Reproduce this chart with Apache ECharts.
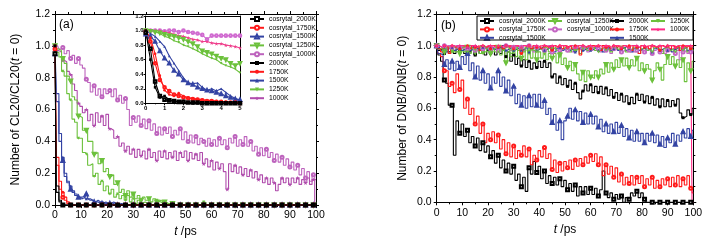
<!DOCTYPE html>
<html><head><meta charset="utf-8">
<script src="https://cdn.jsdelivr.net/npm/echarts@6/dist/echarts.min.js"></script>
<style>html,body{margin:0;padding:0;background:#fff}#c{width:716px;height:243px}</style>
</head><body><div id="c"></div>
<script>
// ---------- time grids ----------
const tMain = [0,1,2,3,4,5,6,7,8,9,10,11,12,13,14,15,16,17,18,19,20,21,22,23,24,25,26,27,28,29,30,31,32,33,34,35,36,37,38,39,40,41,42,43,44,45,46,47,48,49,50,51,52,53,54,55,56,57,58,59,60,61,62,63,64,65,66,67,68,69,70,71,72,73,74,75,76,77,78,79,80,81,82,83,84,85,86,87,88,89,90,91,92,93,94,95,96,97,98,99,100];
const tInset = [0,0.25,0.5,0.75,1,1.25,1.5,1.75,2,2.25,2.5,2.75,3,3.25,3.5,3.75,4,4.25,4.5,4.75,5];
const seriesNames = ['cosrytal_2000K','cosrytal_1750K','cosrytal_1500K','cosrytal_1250K','cosrytal_1000K','2000K','1750K','1500K','1250K','1000K'];
const xTicksMain = [0,10,20,30,40,50,60,70,80,90,100];
const yTicks = [0.0,0.2,0.4,0.6,0.8,1.0,1.2];
const xTicksInset = [0,1,2,3,4,5];

// ---------- panel (a) main: CL20 ----------
const a_c2000 = [0.95,0.08,0.02,0,0,0,0,0,0,0,0,
0,0,0,0,0,0,0,0,0,0, 0,0,0,0,0,0,0,0,0,0, 0,0,0,0,0,0,0,0,0,0, 0,0,0,0,0,0,0,0,0,0,
0,0,0,0,0,0,0,0,0,0, 0,0,0,0,0,0,0,0,0,0, 0,0,0,0,0,0,0,0,0,0, 0,0,0,0,0,0,0,0,0,0, 0,0,0,0,0,0,0,0,0,0];
const a_c1750 = [0.98,0.25,0.1,0.05,0.03,0.01,0,0,0,0,0,
0,0,0,0,0,0,0,0,0,0, 0,0,0,0,0,0,0,0,0,0, 0,0,0,0,0,0,0,0,0,0, 0,0,0,0,0,0,0,0,0,0,
0,0,0,0,0,0,0,0,0,0, 0,0,0,0,0,0,0,0,0,0, 0,0,0,0,0,0,0,0,0,0, 0,0,0,0,0,0,0,0,0,0, 0,0,0,0,0,0,0,0,0,0];
const a_c1500 = [0.95,0.65,0.4,0.28,0.18,0.14,0.1,0.08,0.06,0.05,0.04,
0.05,0.07,0.04,0.03,0.02,0.03,0.02,0.01,0.02,0.01, 0.01,0.02,0.01,0,0.01,0,0,0,0,0, 0,0,0,0,0,0,0,0,0,0, 0,0,0,0,0,0,0,0,0,0,
0,0,0,0,0,0,0,0,0,0, 0,0,0,0,0,0,0,0,0,0, 0,0,0,0,0,0,0,0,0,0, 0,0,0,0,0,0,0,0,0,0, 0,0,0,0,0,0,0,0,0,0];
const a_c1250 = [1.0,0.98,0.97,0.92,0.89,0.81,0.78,0.68,0.66,0.56,0.55,
0.47,0.47,0.4,0.4,0.32,0.33,0.26,0.28,0.21,0.23, 0.18,0.19,0.13,0.14,0.08,0.1,0.06,0.09,0.05,0.07,
0.04,0.06,0.03,0.05,0.03,0.04,0.02,0.04,0.02,0.03, 0.02,0.02,0.01,0.01,0.01,0,0,0,0,0,
0,0,0,0,0,0,0,0,0,0, 0,0,0,0,0,0,0,0,0,0, 0,0,0,0,0,0,0,0,0,0, 0,0,0,0,0,0,0,0,0,0, 0,0,0,0,0,0,0,0,0,0];
const a_c1000 = [1.0,1.0,0.98,0.99,0.95,0.97,0.92,0.94,0.89,0.92,0.88,
0.86,0.79,0.77,0.71,0.75,0.69,0.73,0.68,0.73,0.7, 0.72,0.68,0.73,0.66,0.69,0.64,0.67,0.6,0.5,0.55,
0.52,0.56,0.5,0.54,0.48,0.53,0.47,0.51,0.45,0.49, 0.44,0.48,0.45,0.49,0.43,0.47,0.44,0.48,0.41,0.46,
0.4,0.44,0.39,0.43,0.38,0.42,0.4,0.37,0.42,0.38, 0.41,0.37,0.42,0.38,0.41,0.36,0.42,0.39,0.43,0.37,
0.41,0.38,0.43,0.37,0.4,0.34,0.37,0.32,0.36,0.31, 0.35,0.3,0.33,0.28,0.32,0.27,0.3,0.25,0.29,0.24,
0.27,0.22,0.25,0.19,0.23,0.17,0.21,0.15,0.19,0.16];
const a_2000 = [1.0,0.12,0.03,0,0,0,0,0,0,0,0,
0,0,0,0,0,0,0,0,0,0, 0,0,0,0,0,0,0,0,0,0, 0,0,0,0,0,0,0,0,0,0, 0,0,0,0,0,0,0,0,0,0,
0,0,0,0,0,0,0,0,0,0, 0,0,0,0,0,0,0,0,0,0, 0,0,0,0,0,0,0,0,0,0, 0,0,0,0,0,0,0,0,0,0, 0,0,0,0,0,0,0,0,0,0];
const a_1750 = [1.0,0.3,0.15,0.08,0.05,0.02,0,0,0,0,0,
0,0,0,0,0,0,0,0,0,0, 0,0,0,0,0,0,0,0,0,0, 0,0,0,0,0,0,0,0,0,0, 0,0,0,0,0,0,0,0,0,0,
0,0,0,0,0,0,0,0,0,0, 0,0,0,0,0,0,0,0,0,0, 0,0,0,0,0,0,0,0,0,0, 0,0,0,0,0,0,0,0,0,0, 0,0,0,0,0,0,0,0,0,0];
const a_1500 = [1.0,0.7,0.45,0.3,0.2,0.15,0.12,0.09,0.07,0.05,0.05,
0.06,0.04,0.03,0.03,0.02,0.02,0.01,0.02,0.01,0.01, 0,0.01,0,0,0.01,0,0,0,0,0, 0,0,0,0,0,0,0,0,0,0, 0,0,0,0,0,0,0,0,0,0,
0,0,0,0,0,0,0,0,0,0, 0,0,0,0,0,0,0,0,0,0, 0,0,0,0,0,0,0,0,0,0, 0,0,0,0,0,0,0,0,0,0, 0,0,0,0,0,0,0,0,0,0];
const a_1250 = [1.0,0.96,0.93,0.84,0.81,0.7,0.66,0.54,0.52,0.42,0.42,
0.33,0.32,0.25,0.26,0.18,0.2,0.13,0.15,0.09,0.12, 0.07,0.1,0.05,0.07,0.04,0.06,0.03,0.06,0.02,0.04,
0.01,0.03,0.01,0.02,0.01,0.01,0,0.01,0.03,0.02, 0.01,0,0.01,0,0,0,0,0,0,0,
0,0,0,0,0,0,0.02,0,0,0, 0,0,0,0,0,0,0,0,0,0, 0,0,0,0,0,0,0,0,0,0, 0,0,0,0,0,0,0,0,0,0, 0,0,0,0,0,0,0,0,0,0];
const a_1000 = [1.0,0.97,0.96,0.91,0.9,0.84,0.82,0.76,0.72,0.64,0.62,
0.58,0.6,0.53,0.57,0.5,0.58,0.52,0.56,0.5,0.57, 0.48,0.47,0.42,0.43,0.37,0.39,0.34,0.37,0.32,0.35,
0.3,0.35,0.31,0.34,0.29,0.35,0.3,0.33,0.28,0.34, 0.3,0.34,0.29,0.33,0.3,0.34,0.28,0.33,0.3,0.34,
0.28,0.33,0.29,0.32,0.28,0.33,0.26,0.29,0.24,0.28, 0.22,0.27,0.23,0.26,0.21,0.1,0.26,0.21,0.25,0.2,
0.24,0.19,0.23,0.18,0.22,0.17,0.21,0.16,0.19,0.14, 0.17,0.13,0.17,0.14,0.09,0.13,0.17,0.14,0.17,0.13,
0.17,0.14,0.17,0.13,0.16,0.14,0.17,0.13,0.16,0.0];

// ---------- panel (a) inset (0-5 ps) ----------
const i_c2000 = [0.97,0.75,0.3,0.1,0.05,0.04,0.03,0.02,0.02,0.01,0.01,0.01,0,0,0,0,0,0,0,0,0];
const i_c1750 = [0.98,0.85,0.55,0.32,0.22,0.17,0.12,0.1,0.08,0.07,0.06,0.05,0.04,0.03,0.03,0.02,0.02,0.01,0.01,0.01,0];
const i_c1500 = [0.95,0.92,0.85,0.72,0.62,0.55,0.45,0.4,0.32,0.28,0.26,0.22,0.2,0.18,0.17,0.15,0.13,0.1,0.08,0.06,0.05];
const i_c1250 = [1.0,0.99,0.98,0.97,0.95,0.93,0.92,0.9,0.88,0.85,0.82,0.78,0.72,0.7,0.68,0.65,0.62,0.6,0.55,0.52,0.55];
const i_c1000 = [1.0,1.0,1.0,1.0,0.99,1.0,1.0,0.98,1.0,0.98,0.97,0.96,0.94,0.88,0.93,0.93,0.93,0.93,0.93,0.93,0.93];
const i_2000 = [1.0,0.6,0.22,0.08,0.1,0.05,0.03,0.02,0.01,0.01,0,0,0,0,0,0,0,0,0,0,0];
const i_1750 = [1.0,0.9,0.68,0.38,0.18,0.12,0.1,0.14,0.1,0.08,0.07,0.06,0.05,0.04,0.04,0.03,0.02,0.02,0.01,0.01,0.01];
const i_1500 = [1.0,0.96,0.92,0.85,0.78,0.65,0.55,0.45,0.35,0.28,0.27,0.28,0.22,0.18,0.2,0.17,0.2,0.15,0.1,0.07,0.04];
const i_1250 = [1.0,1.0,0.98,0.96,0.92,0.9,0.86,0.84,0.8,0.78,0.75,0.72,0.68,0.65,0.62,0.6,0.55,0.52,0.5,0.47,0.42];
const i_1000 = [1.0,1.0,1.0,1.0,0.98,0.97,0.95,0.93,0.92,0.9,0.88,0.87,0.85,0.85,0.83,0.82,0.82,0.8,0.79,0.78,0.76];

// ---------- panel (b): DNB ----------
const b_c2000 = [1.0,0.94,0.9,0.78,0.76,0.62,0.62,0.3,0.52,0.44,0.5,
0.42,0.46,0.38,0.42,0.36,0.41,0.33,0.38,0.32,0.36, 0.29,0.33,0.25,0.3,0.22,0.27,0.2,0.25,0.18,0.23,
0.14,0.18,0.1,0.16,0.07,0.22,0.18,0.26,0.19,0.23, 0.15,0.2,0.12,0.17,0.12,0.16,0.11,0.15,0.1,0.14,
0.08,0.12,0.07,0.11,0.04,0.1,0.06,0.1,0.05,0.09, 0.05,0.09,0.04,0.08,0.2,0.06,0.03,0.06,0.02,0.05,
0.02,0.04,0.0,0.03,0.02,0.06,0.04,0.07,0.03,0.06, 0.02,0,0,0,0,0,0,0,0,0, 0,0,0,0,0,0,0,0,0,0];
const b_c1750 = [1.0,0.95,0.93,0.84,0.84,0.74,0.76,0.7,0.82,0.72,0.78,
0.6,0.66,0.56,0.6,0.5,0.55,0.44,0.5,0.38,0.44, 0.4,0.45,0.38,0.43,0.34,0.4,0.31,0.38,0.29,0.36,
0.28,0.33,0.3,0.36,0.29,0.34,0.24,0.3,0.27,0.33, 0.29,0.35,0.28,0.31,0.21,0.27,0.19,0.25,0.2,0.26,
0.22,0.27,0.21,0.27,0.23,0.28,0.24,0.29,0.25,0.3, 0.26,0.31,0.24,0.29,0.17,0.24,0.18,0.23,0.16,0.22,
0.13,0.18,0.11,0.16,0.12,0.17,0.11,0.16,0.12,0.17, 0.1,0.15,0.11,0.16,0.09,0.14,0.1,0.15,0.11,0.15,
0.1,0.16,0.11,0.17,0.1,0.15,0.11,0.17,0.09,0.06];
const b_c1500 = [1.0,0.95,0.94,0.88,0.91,0.85,0.9,0.84,0.9,0.86,0.93,
0.88,0.95,0.84,0.89,0.8,0.87,0.78,0.84,0.76,0.82, 0.73,0.8,0.76,0.84,0.74,0.8,0.71,0.78,0.68,0.74,
0.63,0.69,0.62,0.68,0.6,0.68,0.61,0.69,0.62,0.69, 0.6,0.65,0.56,0.6,0.51,0.56,0.46,0.52,0.4,0.52,
0.55,0.6,0.53,0.59,0.52,0.58,0.51,0.57,0.5,0.56, 0.5,0.55,0.48,0.53,0.45,0.5,0.44,0.5,0.45,0.51,
0.44,0.49,0.42,0.47,0.41,0.46,0.39,0.45,0.39,0.44, 0.38,0.44,0.39,0.44,0.38,0.43,0.37,0.42,0.35,0.41,
0.38,0.44,0.37,0.43,0.39,0.45,0.41,0.47,0.42,0.46];
const b_c1250 = [1.0,0.98,0.99,0.96,0.99,0.95,0.98,0.96,0.99,0.95,0.98,
0.96,0.99,0.95,0.98,0.96,0.99,0.95,0.98,0.96,0.99, 0.95,0.98,0.96,0.99,0.94,0.97,0.89,0.96,0.93,0.97,
0.93,0.97,0.92,0.97,0.91,0.96,0.92,0.97,0.91,0.96, 0.92,0.96,0.91,0.95,0.92,0.95,0.89,0.94,0.88,0.92,
0.86,0.9,0.84,0.88,0.82,0.78,0.83,0.77,0.84,0.8, 0.79,0.84,0.8,0.85,0.82,0.88,0.83,0.89,0.85,0.91,
0.86,0.91,0.87,0.92,0.86,0.91,0.87,0.92,0.84,0.89, 0.84,0.88,0.85,0.78,0.84,0.89,0.85,0.78,0.88,0.93,
0.88,0.93,0.87,0.91,0.86,0.91,0.77,0.89,0.84,0.9];
const b_c1000 = [1.0,1.0,0.99,1.0,0.98,1.0,0.99,0.97,1.0,0.99,0.98,
1.0,0.98,0.99,1.0,0.97,0.99,1.0,0.98,0.99,1.0, 0.98,0.99,1.0,0.97,0.99,0.98,1.0,0.99,0.97,0.99,
1.0,0.98,0.99,0.97,0.99,1.0,0.98,0.96,0.99,0.98, 0.99,0.97,0.98,1.0,0.96,0.98,0.99,0.97,0.98,0.99,
0.97,0.98,0.96,0.99,0.98,0.97,0.99,0.98,0.96,0.98, 0.97,0.99,0.98,0.96,0.98,0.97,0.99,0.95,0.98,0.97,
0.98,0.96,0.97,0.99,0.97,0.98,0.96,0.97,0.99,0.97, 0.96,0.98,0.97,0.95,0.97,0.98,0.96,0.97,0.95,0.97,
0.96,0.98,0.95,0.97,0.91,0.96,0.97,0.95,0.96,0.97];
const b_2000 = [1.0,0.97,0.98,0.95,0.98,0.96,0.99,0.95,0.98,0.96,0.99,
0.95,0.98,0.96,0.99,0.94,0.98,0.95,0.99,0.94,0.97, 0.95,0.98,0.94,0.97,0.95,0.98,0.93,0.96,0.9,0.94,
0.88,0.92,0.87,0.91,0.86,0.9,0.85,0.89,0.86,0.9, 0.86,0.9,0.86,0.89,0.8,0.82,0.76,0.8,0.75,0.79,
0.74,0.78,0.72,0.76,0.7,0.66,0.71,0.75,0.71,0.75, 0.7,0.74,0.7,0.74,0.69,0.73,0.68,0.72,0.67,0.7,
0.65,0.69,0.64,0.68,0.63,0.67,0.63,0.69,0.65,0.69, 0.64,0.68,0.63,0.67,0.62,0.66,0.61,0.66,0.61,0.65,
0.61,0.65,0.62,0.66,0.57,0.54,0.55,0.59,0.56,0.6];
const b_1750 = [1.0,0.98,0.96,1.0,0.99,0.95,1.0,0.99,1.0,0.98,1.0,
0.99,1.0,0.98,1.0,0.99,1.0,0.97,1.0,0.99,1.0, 0.98,1.0,1.0,0.99,1.0,0.98,1.0,0.99,1.0,0.98,
1.0,0.99,0.95,1.0,0.99,1.0,0.98,1.0,0.99,1.0, 0.98,1.0,0.99,1.0,0.97,1.0,0.99,1.0,0.98,1.0,
0.99,1.0,0.98,1.0,0.99,0.94,1.0,0.99,1.0,0.98, 1.0,0.99,1.0,0.97,1.0,0.99,1.0,0.98,1.0,0.99,
1.0,0.98,1.0,0.99,1.0,0.97,1.0,0.99,0.95,1.0, 0.99,1.0,0.98,1.0,0.99,1.0,0.97,1.0,0.99,1.0,
0.98,1.0,0.99,1.0,0.97,1.0,0.99,1.0,0.98,1.0];
const b_1500 = [1.0,0.99,0.97,0.98,0.96,0.98,0.99,0.97,0.98,0.99,0.97,
0.98,0.99,0.97,0.98,1.0,0.98,0.97,0.99,0.98,0.97, 0.99,0.98,0.97,0.99,0.98,1.0,0.97,0.98,0.99,0.97,
0.98,0.99,0.97,0.98,0.99,0.96,0.98,0.99,0.97,0.98, 0.99,0.97,0.98,0.99,0.98,0.96,0.98,0.99,0.97,0.98,
0.99,0.97,0.98,0.96,0.98,0.99,0.97,0.98,0.99,0.97, 0.98,0.99,0.97,0.98,0.96,0.98,0.99,0.97,0.98,0.99,
0.97,0.98,0.99,0.97,0.98,0.96,0.98,0.99,0.97,0.98, 0.99,0.97,0.98,0.96,0.98,0.99,0.97,0.98,0.99,0.97,
0.98,0.96,0.98,0.99,0.97,0.98,0.99,0.97,0.98,0.99];
const b_1250 = [1.0,0.98,0.99,0.97,0.99,0.98,0.96,0.99,0.98,0.97,0.99,
0.98,0.96,0.99,0.98,0.97,0.99,0.98,0.95,0.98,0.99, 0.97,0.98,0.99,0.96,0.98,0.97,0.99,0.98,0.95,0.98,
0.99,0.97,0.98,0.96,0.99,0.98,0.97,0.99,0.96,0.98, 0.97,0.99,0.98,0.96,0.98,0.99,0.97,0.95,0.98,0.99,
0.98,0.96,0.99,0.97,0.98,0.95,0.98,0.99,0.97,0.98, 0.99,0.97,0.96,0.98,0.99,0.97,0.98,0.96,0.99,0.98,
0.97,0.99,0.98,0.96,0.98,0.97,0.99,0.98,0.95,0.98, 0.99,0.97,0.98,0.96,0.99,0.98,0.97,0.95,0.98,0.99,
0.97,0.98,0.96,0.99,0.98,0.97,0.99,0.96,0.98,0.97];
const b_1000 = [1.0,1.0,0.99,1.0,1.0,0.99,1.0,1.0,0.99,1.0,1.0,
1.0,0.99,1.0,1.0,1.0,0.99,1.0,1.0,0.99,1.0, 1.0,1.0,0.99,1.0,1.0,0.99,1.0,1.0,1.0,0.99,
1.0,1.0,0.99,1.0,1.0,1.0,0.99,1.0,1.0,0.99, 1.0,1.0,1.0,0.99,1.0,1.0,0.99,1.0,1.0,1.0,
0.99,1.0,1.0,0.99,1.0,1.0,1.0,0.99,1.0,1.0, 0.99,1.0,1.0,1.0,0.99,1.0,1.0,0.99,1.0,1.0,
1.0,0.99,1.0,1.0,0.99,1.0,1.0,1.0,0.99,1.0, 1.0,0.99,1.0,1.0,1.0,0.99,1.0,1.0,0.99,1.0,
1.0,1.0,0.99,1.0,1.0,0.99,1.0,1.0,1.0,0.0];

// ---------- styles ----------
const STAR = 'path://M50,0 L61,35 L98,35 L68,57 L79,91 L50,70 L21,91 L32,57 L2,35 L39,35 Z';
const SYM = ['emptyRect','emptyCircle','emptyTriangle','emptyTriangle','emptyCircle','rect','circle','triangle','triangle',STAR];
const ROT = [0,0,0,180,0,0,0,0,180,0];
const BLK='#000000', RED='#ff1a1a', BLU='#3343a3', GRN='#6cc13c';
const colA = [BLK,RED,BLU,GRN,'#bd63bd',BLK,RED,BLU,GRN,'#b04cac'];
const colI = [BLK,RED,BLU,GRN,'#d06ad0',BLK,RED,BLU,GRN,'#ef3f8c'];
const colB = [BLK,RED,BLU,GRN,'#c466c4',BLK,RED,BLU,GRN,'#ff2a85'];
const FONT = 'Liberation Sans';

function mk(prefix, k, t, v, color, xi, yi, every, size, step) {
  const sz = k === 9 ? size + 1.5 : size;
  return {
    type: 'line', name: prefix + seriesNames[k], xAxisIndex: xi, yAxisIndex: yi,
    data: t.map((x, i) => [x, v[i]]),
    step: step,
    symbol: SYM[k], symbolRotate: ROT[k],
    symbolSize: (val, p) => (p.dataIndex % every === 0 ? sz : 0),
    lineStyle: { color: color, width: 1.1 },
    itemStyle: { color: color, borderWidth: 0.8 },
    emphasis: { disabled: true }, animation: false, clip: true
  };
}
const aVals = [a_c2000,a_c1750,a_c1500,a_c1250,a_c1000,a_2000,a_1750,a_1500,a_1250,a_1000];
const iVals = [i_c2000,i_c1750,i_c1500,i_c1250,i_c1000,i_2000,i_1750,i_1500,i_1250,i_1000];
const bVals = [b_c2000,b_c1750,b_c1500,b_c1250,b_c1000,b_2000,b_1750,b_1500,b_1250,b_1000];

const series = [];
[4,9,3,8,2,7,1,6,0,5].forEach(k => series.push(mk('a:', k, tMain, aVals[k], colA[k], 0, 0, 3, 3, 'middle')));
[4,9,3,8,2,7,1,6,0,5].forEach(k => series.push(mk('i:', k, tInset, iVals[k], colI[k], 2, 2, 1, 2.6, false)));
[0,5,1,2,3,4,7,8,6,9].forEach(k => series.push(mk('b:', k, tMain, bVals[k], colB[k], 4, 4, 3, 3, 'middle')));

function axisBase(extra) {
  return Object.assign({
    type: 'value', splitLine: { show: false },
    axisLine: { show: true, onZero: false, lineStyle: { color: '#000', width: 1 } },
    axisTick: { show: true, inside: false, length: 3, lineStyle: { color: '#000' } },
    minorTick: { show: true, splitNumber: 2, length: 2, lineStyle: { color: '#000' } },
    axisLabel: { color: '#000', fontFamily: FONT, fontSize: 10.5, margin: 5 }
  }, extra);
}
const fmt1 = v => v.toFixed(1);
const xName = { name: '{i|t} /ps', nameLocation: 'middle',
  nameTextStyle: { color: '#000', fontFamily: FONT, fontSize: 12, rich: { i: { fontStyle: 'italic', fontSize: 12, fontFamily: FONT, color: '#000' } } } };

const xAxis = [
  axisBase(Object.assign({ gridIndex: 0, min: xTicksMain[0], max: xTicksMain[xTicksMain.length-1], interval: 10, nameGap: 17 }, xName)),
  axisBase({ gridIndex: 0, position: 'top', min: 0, max: 100, interval: 10, axisLabel: { show: false } }),
  axisBase({ gridIndex: 1, min: xTicksInset[0], max: 5, interval: 1, axisTick: { show: true, length: 2, lineStyle: { color: '#000' } },
    minorTick: { show: true, splitNumber: 2, length: 1, lineStyle: { color: '#000' } },
    axisLabel: { color: '#000', fontFamily: FONT, fontSize: 6, fontWeight: 'bold', margin: 2 } }),
  axisBase({ gridIndex: 1, position: 'top', min: 0, max: 5, interval: 1, axisLabel: { show: false }, axisTick: { show: false }, minorTick: { show: false } }),
  axisBase(Object.assign({ gridIndex: 2, min: 0, max: 100, interval: 10, nameGap: 20 }, xName)),
  axisBase({ gridIndex: 2, position: 'top', min: 0, max: 100, interval: 10, axisLabel: { show: false } })
];
const yAxis = [
  axisBase({ gridIndex: 0, min: yTicks[0], max: yTicks[yTicks.length-1], interval: 0.2, axisLabel: { color: '#000', fontFamily: FONT, fontSize: 10.5, margin: 5, formatter: fmt1 },
    name: 'Number of CL20/CL20({i|t} = 0)', nameLocation: 'middle', nameGap: 33,
    nameTextStyle: { color: '#000', fontFamily: FONT, fontSize: 12, rich: { i: { fontStyle: 'italic', fontSize: 12, fontFamily: FONT, color: '#000' } } } }),
  axisBase({ gridIndex: 0, position: 'right', min: 0, max: 1.2, interval: 0.2, axisLabel: { show: false } }),
  axisBase({ gridIndex: 1, min: 0, max: 1.2, interval: 0.2, axisTick: { show: true, length: 2, lineStyle: { color: '#000' } },
    minorTick: { show: false }, axisLabel: { color: '#000', fontFamily: FONT, fontSize: 6, fontWeight: 'bold', margin: 2, formatter: fmt1 } }),
  axisBase({ gridIndex: 1, position: 'right', min: 0, max: 1.2, interval: 0.2, axisLabel: { show: false }, axisTick: { show: false }, minorTick: { show: false } }),
  axisBase({ gridIndex: 2, min: 0, max: 1.2, interval: 0.2, axisLabel: { color: '#000', fontFamily: FONT, fontSize: 10.5, margin: 5, formatter: fmt1 },
    name: 'Number of DNB/DNB({i|t} = 0)', nameLocation: 'middle', nameGap: 28,
    nameTextStyle: { color: '#000', fontFamily: FONT, fontSize: 12, rich: { i: { fontStyle: 'italic', fontSize: 12, fontFamily: FONT, color: '#000' } } } }),
  axisBase({ gridIndex: 2, position: 'right', min: 0, max: 1.2, interval: 0.2, axisLabel: { show: false } })
];

const legBase = {
  orient: 'vertical', padding: 0, itemGap: 1.5, itemWidth: 14, itemHeight: 5, selectedMode: false,
  formatter: n => n.replace(/^[abi]:/, ''),
  textStyle: { color: '#000', fontFamily: FONT, fontSize: 6.8 }
};
const legends = [
  Object.assign({}, legBase, { left: 249, top: 15.5, itemGap: 1.8, data: seriesNames.map(n => 'a:' + n) }),
  Object.assign({}, legBase, { left: 479, top: 17.5, itemGap: 1.4, data: ['b:cosrytal_2000K','b:cosrytal_1750K','b:cosrytal_1500K'] }),
  Object.assign({}, legBase, { left: 547, top: 17.5, itemGap: 1.4, data: ['b:cosrytal_1250K','b:cosrytal_1000K'] }),
  Object.assign({}, legBase, { left: 609, top: 17.5, itemGap: 1.4, data: ['b:2000K','b:1750K','b:1500K'] }),
  Object.assign({}, legBase, { left: 650, top: 17.5, itemGap: 1.4, data: ['b:1250K','b:1000K'] })
];

const chart = echarts.init(document.getElementById('c'), null, { renderer: 'canvas' });
chart.setOption({
  backgroundColor: '#fff',
  animation: false,
  title: [
    { text: '(a)', left: 59, top: 19, padding: 0, textStyle: { fontFamily: FONT, fontSize: 12, fontWeight: 'normal', color: '#000' } },
    { text: '(b)', left: 441, top: 20, padding: 0, textStyle: { fontFamily: FONT, fontSize: 12, fontWeight: 'normal', color: '#000' } }
  ],
  grid: [
    { left: 55, top: 14, width: 261, height: 191.7 },
    { left: 145.7, top: 16, width: 94.3, height: 87.3 },
    { left: 436.7, top: 14.3, width: 256.6, height: 188 }
  ],
  graphic: [
    { type: 'rect', shape: { x: 477, y: 16, width: 216, height: 24 }, style: { fill: 'none', stroke: '#000', lineWidth: 1 }, z: 5 }
  ],
  legend: legends,
  xAxis: xAxis,
  yAxis: yAxis,
  series: series
});
</script>
</body></html>
